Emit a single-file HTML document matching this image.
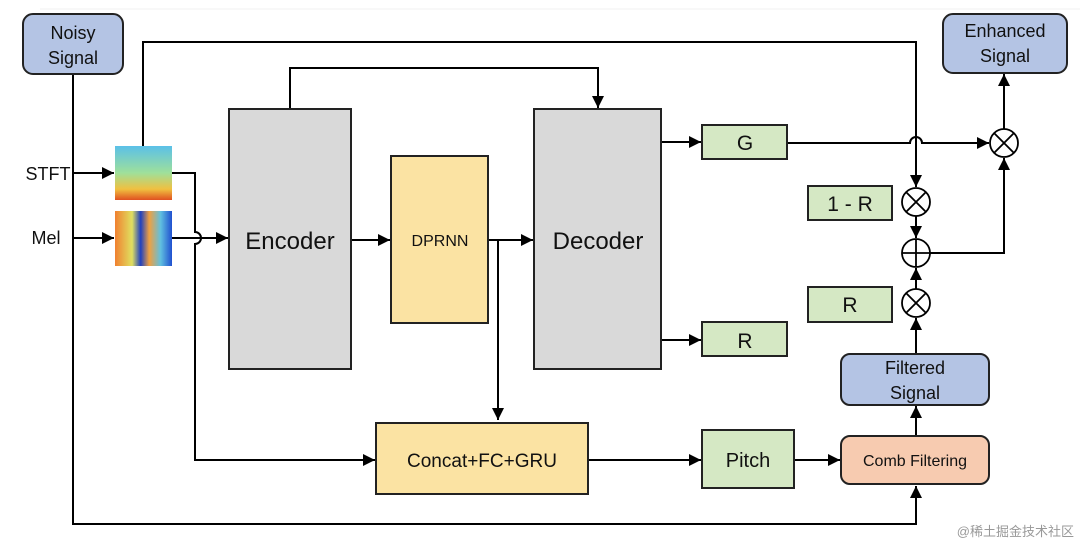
<!DOCTYPE html>
<html><head><meta charset="utf-8"><style>
html,body{margin:0;padding:0;background:#fff;}
svg{display:block;font-family:"Liberation Sans","Noto Sans CJK SC",sans-serif;}
</style></head><body>
<svg width="1080" height="546" viewBox="0 0 1080 546" xmlns="http://www.w3.org/2000/svg">
<defs>
<marker id="a" viewBox="0 0 10 10" refX="10" refY="5" markerWidth="6" markerHeight="6" orient="auto"><path d="M0,0L10,5L0,10z" fill="#000"/></marker>
<linearGradient id="s1" x1="0" y1="0" x2="0" y2="1"><stop offset="0" stop-color="#5bc0e8"/><stop offset="0.5" stop-color="#9fe09a"/><stop offset="0.8" stop-color="#f0c040"/><stop offset="1" stop-color="#e05020"/></linearGradient>
<linearGradient id="s2" x1="0" y1="0" x2="1" y2="0"><stop offset="0" stop-color="#f08030"/><stop offset="0.3" stop-color="#e0e060"/><stop offset="0.45" stop-color="#2040c0"/><stop offset="0.6" stop-color="#f0a040"/><stop offset="0.8" stop-color="#60c0e0"/><stop offset="1" stop-color="#2050d0"/></linearGradient>
</defs>
<line x1="40" y1="9" x2="1080" y2="9" stroke="#f2f2f2"/>
<g stroke="#000" stroke-width="2" fill="none">
<path d="M73,74 V524 H916 V486" marker-end="url(#a)"/>
<path d="M73,173 H114" marker-end="url(#a)"/>
<path d="M73,238 H114" marker-end="url(#a)"/>
<path d="M143,146 V42 H916 V187" marker-end="url(#a)"/>
<path d="M172,173 H195 V232 a6,6 0 0 1 0,12 V460 H375" marker-end="url(#a)"/>
<path d="M172,238 H228" marker-end="url(#a)"/>
<path d="M290,109 V68 H598 V108" marker-end="url(#a)"/>
<path d="M351,240 H390" marker-end="url(#a)"/>
<path d="M488,240 H533" marker-end="url(#a)"/>
<path d="M498,240 V420" marker-end="url(#a)"/>
<path d="M661,142 H701" marker-end="url(#a)"/>
<path d="M661,340 H701" marker-end="url(#a)"/>
<path d="M787,143 H910 a6,6 0 0 1 12,0 H989" marker-end="url(#a)"/>
<path d="M916,216 V238" marker-end="url(#a)"/>
<path d="M916,289 V268" marker-end="url(#a)"/>
<path d="M930,253 H1004 V158" marker-end="url(#a)"/>
<path d="M1004,129 V74" marker-end="url(#a)"/>
<path d="M916,354 V318" marker-end="url(#a)"/>
<path d="M916,436 V406" marker-end="url(#a)"/>
<path d="M588,460 H701" marker-end="url(#a)"/>
<path d="M794,460 H840" marker-end="url(#a)"/>
</g>
<g stroke="#000" stroke-width="1.8" fill="#fff">
<circle cx="1004" cy="143" r="14"/><path d="M994,133L1014,153M1014,133L994,153"/>
<circle cx="916" cy="202" r="14"/><path d="M906,192L926,212M926,192L906,212"/>
<circle cx="916" cy="253" r="14"/><path d="M902,253H930M916,239V267"/>
<circle cx="916" cy="303" r="14"/><path d="M906,293L926,313M926,293L906,313"/>
</g>
<g stroke="#222" stroke-width="2">
<rect x="23" y="14" width="100" height="60" rx="10" fill="#b4c4e4"/>
<rect x="943" y="14" width="124" height="59" rx="10" fill="#b4c4e4"/>
<rect x="841" y="354" width="148" height="51" rx="9" fill="#b4c4e4"/>
<rect x="841" y="436" width="148" height="48" rx="9" fill="#f7cbb0"/>
<rect x="229" y="109" width="122" height="260" fill="#d9d9d9"/>
<rect x="534" y="109" width="127" height="260" fill="#d9d9d9"/>
<rect x="391" y="156" width="97" height="167" fill="#fbe3a3"/>
<rect x="376" y="423" width="212" height="71" fill="#fbe3a3"/>
<rect x="702" y="125" width="85" height="34" fill="#d5e8c4"/>
<rect x="702" y="322" width="85" height="34" fill="#d5e8c4"/>
<rect x="808" y="186" width="84" height="34" fill="#d5e8c4"/>
<rect x="808" y="287" width="84" height="35" fill="#d5e8c4"/>
<rect x="702" y="430" width="92" height="58" fill="#d5e8c4"/>
</g>
<rect x="115" y="146" width="57" height="54" fill="url(#s1)"/>
<rect x="115" y="211" width="57" height="55" fill="url(#s2)"/>
<g fill="#111" text-anchor="middle">
<text x="73" y="39" font-size="18">Noisy</text><text x="73" y="64" font-size="18">Signal</text>
<text x="1005" y="37" font-size="18">Enhanced</text><text x="1005" y="62" font-size="18">Signal</text>
<text x="915" y="374" font-size="18">Filtered</text><text x="915" y="399" font-size="18">Signal</text>
<text x="915" y="466" font-size="16">Comb Filtering</text>
<text x="290" y="249" font-size="24">Encoder</text>
<text x="598" y="249" font-size="24">Decoder</text>
<text x="440" y="246" font-size="16">DPRNN</text>
<text x="482" y="467" font-size="19">Concat+FC+GRU</text>
<text x="745" y="150" font-size="21">G</text>
<text x="745" y="348" font-size="21">R</text>
<text x="850" y="211" font-size="21">1 - R</text>
<text x="850" y="312" font-size="21">R</text>
<text x="748" y="467" font-size="20">Pitch</text>
<text x="48" y="180" font-size="18">STFT</text>
<text x="46" y="244" font-size="18">Mel</text>
</g>
<text x="1074" y="536" font-size="13" fill="#999" text-anchor="end">@稀土掘金技术社区</text>
</svg>
</body></html>
